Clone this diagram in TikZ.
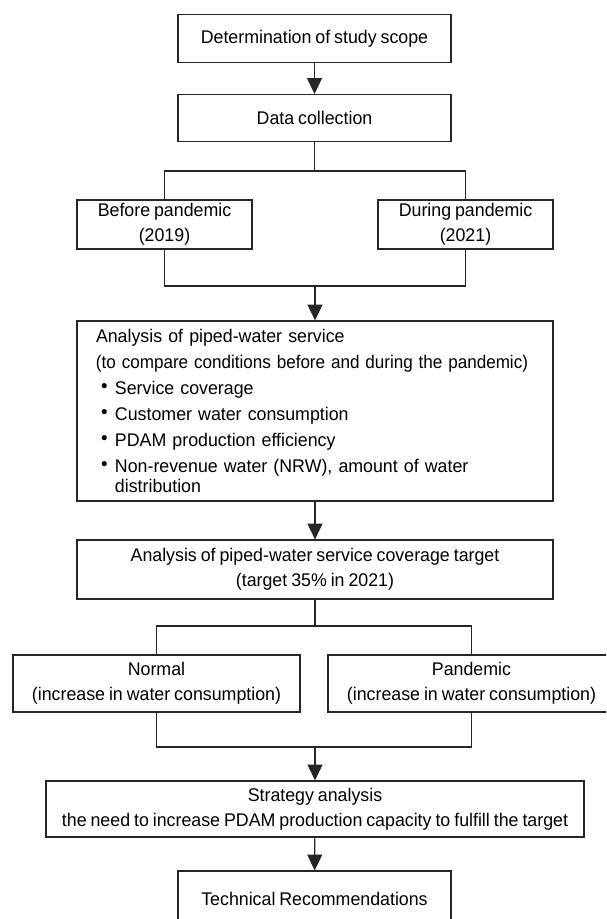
\documentclass[tikz,border=0pt]{standalone}
\usepackage{fontspec}
\setmainfont[FakeStretch=0.97,WordSpace=0.8]{Liberation Sans}
\usetikzlibrary{arrows.meta}
\newcommand{\bul}{\raisebox{0.25ex}{\scalebox{1.05}{\textbullet}}}
\begin{document}
\begin{tikzpicture}[x=0.6pt,y=-0.6pt,
  bx/.style 2 args={draw=black!85, line width=0.7pt, minimum width=#1*0.6pt, minimum height=#2*0.6pt, inner sep=0pt, align=center, text=black, font=\fontsize{11}{15}\selectfont},
  ln/.style={draw=black!85, line width=0.7pt},
  arr/.style={ln, -{Triangle[width=9pt,length=9.5pt]}}]
\fill[white] (0,0) rectangle (606,919);
\useasboundingbox (0,0) rectangle (606,919);
\clip (0,0) rectangle (606,919);

\node[bx={273}{48}] (b1) at (314.5,38.5) {Determination of study scope};
\node[bx={273}{47}] (b2) at (314.5,118) {Data collection};
\node[bx={175}{49}] (bef) at (164.5,224.5) {Before pandemic\\(2019)};
\node[bx={175}{49}] (dur) at (465.5,224.5) {During pandemic\\(2021)};
\node[bx={476}{180}, align=left, text width=438*0.6pt, font=\fontsize{11}{15.6}\selectfont] (ana) at (315,411) {%
\mbox{Analysis of piped-water service}\\
\scalebox{0.96}[1]{(to compare conditions before and during the pandemic)}\\
\makebox[11.4pt][l]{\hspace{3pt}\bul}Service coverage\\
\makebox[11.4pt][l]{\hspace{3pt}\bul}Customer water consumption\\
\makebox[11.4pt][l]{\hspace{3pt}\bul}PDAM production efficiency\\
\makebox[11.4pt][l]{\hspace{3pt}\bul}\mbox{Non-revenue water (NRW), amount of water}\\[-3.6pt]
\hspace*{11.4pt}distribution};
\node[bx={476}{59}] (cov) at (315,569.5) {Analysis of piped-water service coverage target\\(target 35\% in 2021)};
\node[bx={287}{57}] (nor) at (156.5,683.5) {Normal\\(increase in water consumption)};
\node[bx={287}{57}] (pan) at (471.5,683.5) {Pandemic\\(increase in water consumption)};
\node[bx={538}{56}] (str) at (315,809) {Strategy analysis\\the need to increase PDAM production capacity to fulfill the target};
\node[bx={273}{56}] (tec) at (314.5,899) {Technical Recommendations};

\coordinate (j1) at (314.5,171);
\coordinate (j2) at (315,286);
\coordinate (j3) at (315,626);
\coordinate (j4) at (315,747);

\draw[arr] (b1) -- (b2);
\draw[ln] (b2.south) -- (j1);
\draw[ln] (bef.north) |- (j1) -| (dur.north);
\draw[ln] (bef.south) |- (j2) -| (dur.south);
\draw[arr] (j2) -- (ana.north);
\draw[arr] (ana) -- (cov);
\draw[ln] (cov.south) -- (j3);
\draw[ln] (nor.north) |- (j3) -| (pan.north);
\draw[ln] (nor.south) |- (j4) -| (pan.south);
\draw[arr] (j4) -- (str.north);
\draw[arr] (str) -- (tec);
\end{tikzpicture}
\end{document}
